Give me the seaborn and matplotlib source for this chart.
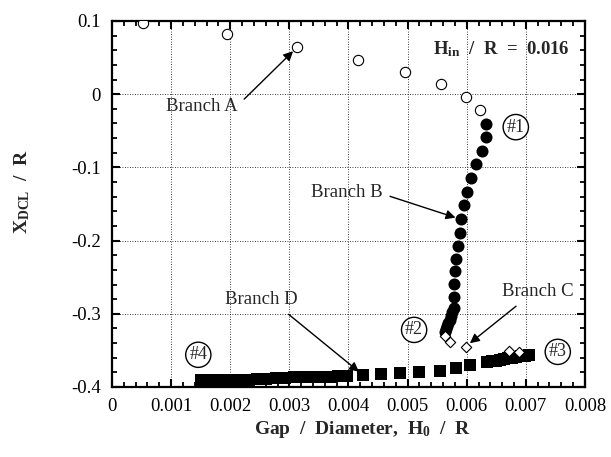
import numpy as np
import pandas as pd
import matplotlib
matplotlib.use("Agg")
import matplotlib.pyplot as plt
import seaborn as sns
from matplotlib.ticker import AutoMinorLocator

sns.set_theme(style="ticks")
plt.rcParams["font.family"] = ["Liberation Serif", "DejaVu Serif"]
plt.rcParams["mathtext.default"] = "regular"

# ---- data ----
# Branch A: open circles
branch_a_x = [0.00053, 0.00194, 0.00313, 0.00416, 0.00496, 0.00557, 0.00598, 0.00622]
branch_a_y = [0.097, 0.082, 0.064, 0.047, 0.030, 0.014, -0.004, -0.022]

# Branch B: filled circles
branch_b_x = [0.00632, 0.00632, 0.00625, 0.00616, 0.00608, 0.00601, 0.00595, 0.00590,
              0.00588, 0.00585, 0.00582, 0.00580, 0.00579, 0.00579, 0.00578,
              0.00575, 0.00573, 0.00571, 0.00569, 0.00567, 0.00565, 0.00563]
branch_b_y = [-0.041, -0.059, -0.078, -0.096, -0.115, -0.134, -0.152, -0.171,
              -0.189, -0.208, -0.225, -0.241, -0.259, -0.277, -0.292,
              -0.298, -0.303, -0.308, -0.313, -0.317, -0.321, -0.325]

# Branch C: open diamonds
branch_c_x = [0.00563, 0.00571, 0.00598, 0.00671, 0.00689]
branch_c_y = [-0.330, -0.339, -0.345, -0.351, -0.352]

# Branch D: filled squares
branch_d_x = [0.00150, 0.00165, 0.00180, 0.00196, 0.00211, 0.00228, 0.00245, 0.00260,
              0.00277, 0.00293, 0.00308, 0.00323, 0.00339, 0.00354, 0.00368, 0.00383,
              0.00398, 0.00425, 0.00455, 0.00487, 0.00520, 0.00554, 0.00582, 0.00606,
              0.00635, 0.00642, 0.00649, 0.00656, 0.00663, 0.00670, 0.00677, 0.00684,
              0.00691, 0.00698, 0.00705]
branch_d_y = [-0.391, -0.391, -0.391, -0.390, -0.390, -0.390, -0.389, -0.389,
              -0.388, -0.388, -0.387, -0.387, -0.386, -0.386, -0.386, -0.385,
              -0.385, -0.384, -0.382, -0.381, -0.380, -0.378, -0.374, -0.370,
              -0.366, -0.365, -0.364, -0.363, -0.362, -0.361, -0.360, -0.359,
              -0.358, -0.357, -0.356]

x_ticks = [0, 0.001, 0.002, 0.003, 0.004, 0.005, 0.006, 0.007, 0.008]
x_tick_labels = ["0", "0.001", "0.002", "0.003", "0.004", "0.005", "0.006", "0.007", "0.008"]
y_ticks = [-0.4, -0.3, -0.2, -0.1, 0, 0.1]
y_tick_labels = ["-0.4", "-0.3", "-0.2", "-0.1", "0", "0.1"]

# ---- figure ----
fig = plt.figure(figsize=(6.11, 4.57), dpi=100)
ax = fig.add_axes([0.1833, 0.1532, 0.7741, 0.8009])

sns.scatterplot(x=branch_a_x, y=branch_a_y, ax=ax, marker="o", s=55,
                facecolor="white", edgecolor="black", linewidth=0.8, zorder=3)
sns.scatterplot(x=branch_b_x, y=branch_b_y, ax=ax, marker="o", s=75,
                color="black", edgecolor="black", linewidth=0, zorder=3)
sns.scatterplot(x=branch_d_x, y=branch_d_y, ax=ax, marker="s", s=70,
                color="black", edgecolor="black", linewidth=0, zorder=3)
sns.scatterplot(x=branch_c_x, y=branch_c_y, ax=ax, marker="D", s=28,
                facecolor="white", edgecolor="black", linewidth=0.8, zorder=4)

ax.set_xlim(0, 0.008)
ax.set_ylim(-0.4, 0.1)
ax.set_xticks(x_ticks)
ax.set_xticklabels(x_tick_labels)
ax.set_yticks(y_ticks)
ax.set_yticklabels(y_tick_labels)
ax.xaxis.set_minor_locator(AutoMinorLocator(5))
ax.yaxis.set_minor_locator(AutoMinorLocator(5))
ax.tick_params(which="both", direction="in", top=True, right=True,
               labelsize=13.5, pad=8, color="black", labelcolor="black")
ax.tick_params(which="major", length=6, width=1.5)
ax.tick_params(which="minor", length=3.5, width=1.3)
for sp in ax.spines.values():
    sp.set_linewidth(1.6)
    sp.set_color("black")
ax.grid(True, which="major", linestyle=(0, (1, 2)), color="black", linewidth=0.6)

ax.set_xlabel("Gap  /  Diameter,  H$_0$  /  R", fontsize=14, fontweight="bold")
ax.set_ylabel("X$_{DCL}$  /  R", fontsize=14, fontweight="bold")
ax.xaxis.set_label_coords(0.529, -0.088)
ax.yaxis.set_label_coords(-0.17, 0.533)

# annotations
def arrow(rel):
    return dict(arrowstyle="-|>", color="black", lw=1.0, mutation_scale=14,
                shrinkA=3, shrinkB=4, relpos=rel)

ax.annotate("Branch A", xy=(branch_a_x[2], branch_a_y[2]), xytext=(0.00213, -0.0175),
            ha="right", va="center", fontsize=13.5, arrowprops=arrow((1.0, 0.6)))
ax.annotate("Branch B", xy=(branch_b_x[7], branch_b_y[7]), xytext=(0.00458, -0.134),
            ha="right", va="center", fontsize=13.5, arrowprops=arrow((1.0, 0.4)))
ax.annotate("Branch C", xy=(branch_c_x[2], branch_c_y[2]), xytext=(0.0072, -0.270),
            ha="center", va="center", fontsize=13.5, arrowprops=arrow((0.3, 0.0)))
ax.annotate("Branch D", xy=(branch_d_x[17], branch_d_y[17]), xytext=(0.00252, -0.281),
            ha="center", va="center", fontsize=13.5, arrowprops=arrow((0.78, 0.0)))

ax.text(0.00774, 0.062, "H$_{in}$  /  R  =  0.016", ha="right", va="center",
        fontsize=13.5, fontweight="bold")

circ = dict(boxstyle="circle,pad=0.2", fc="white", ec="black", lw=1.0)
for lbl, cx, cy in [("#1", 0.00683, -0.045), ("#2", 0.00511, -0.322),
                    ("#3", 0.00754, -0.352), ("#4", 0.00146, -0.356)]:
    ax.text(cx, cy, lbl, ha="center", va="center", fontsize=13, bbox=circ, zorder=5)

fig.savefig("out.png", dpi=100)
